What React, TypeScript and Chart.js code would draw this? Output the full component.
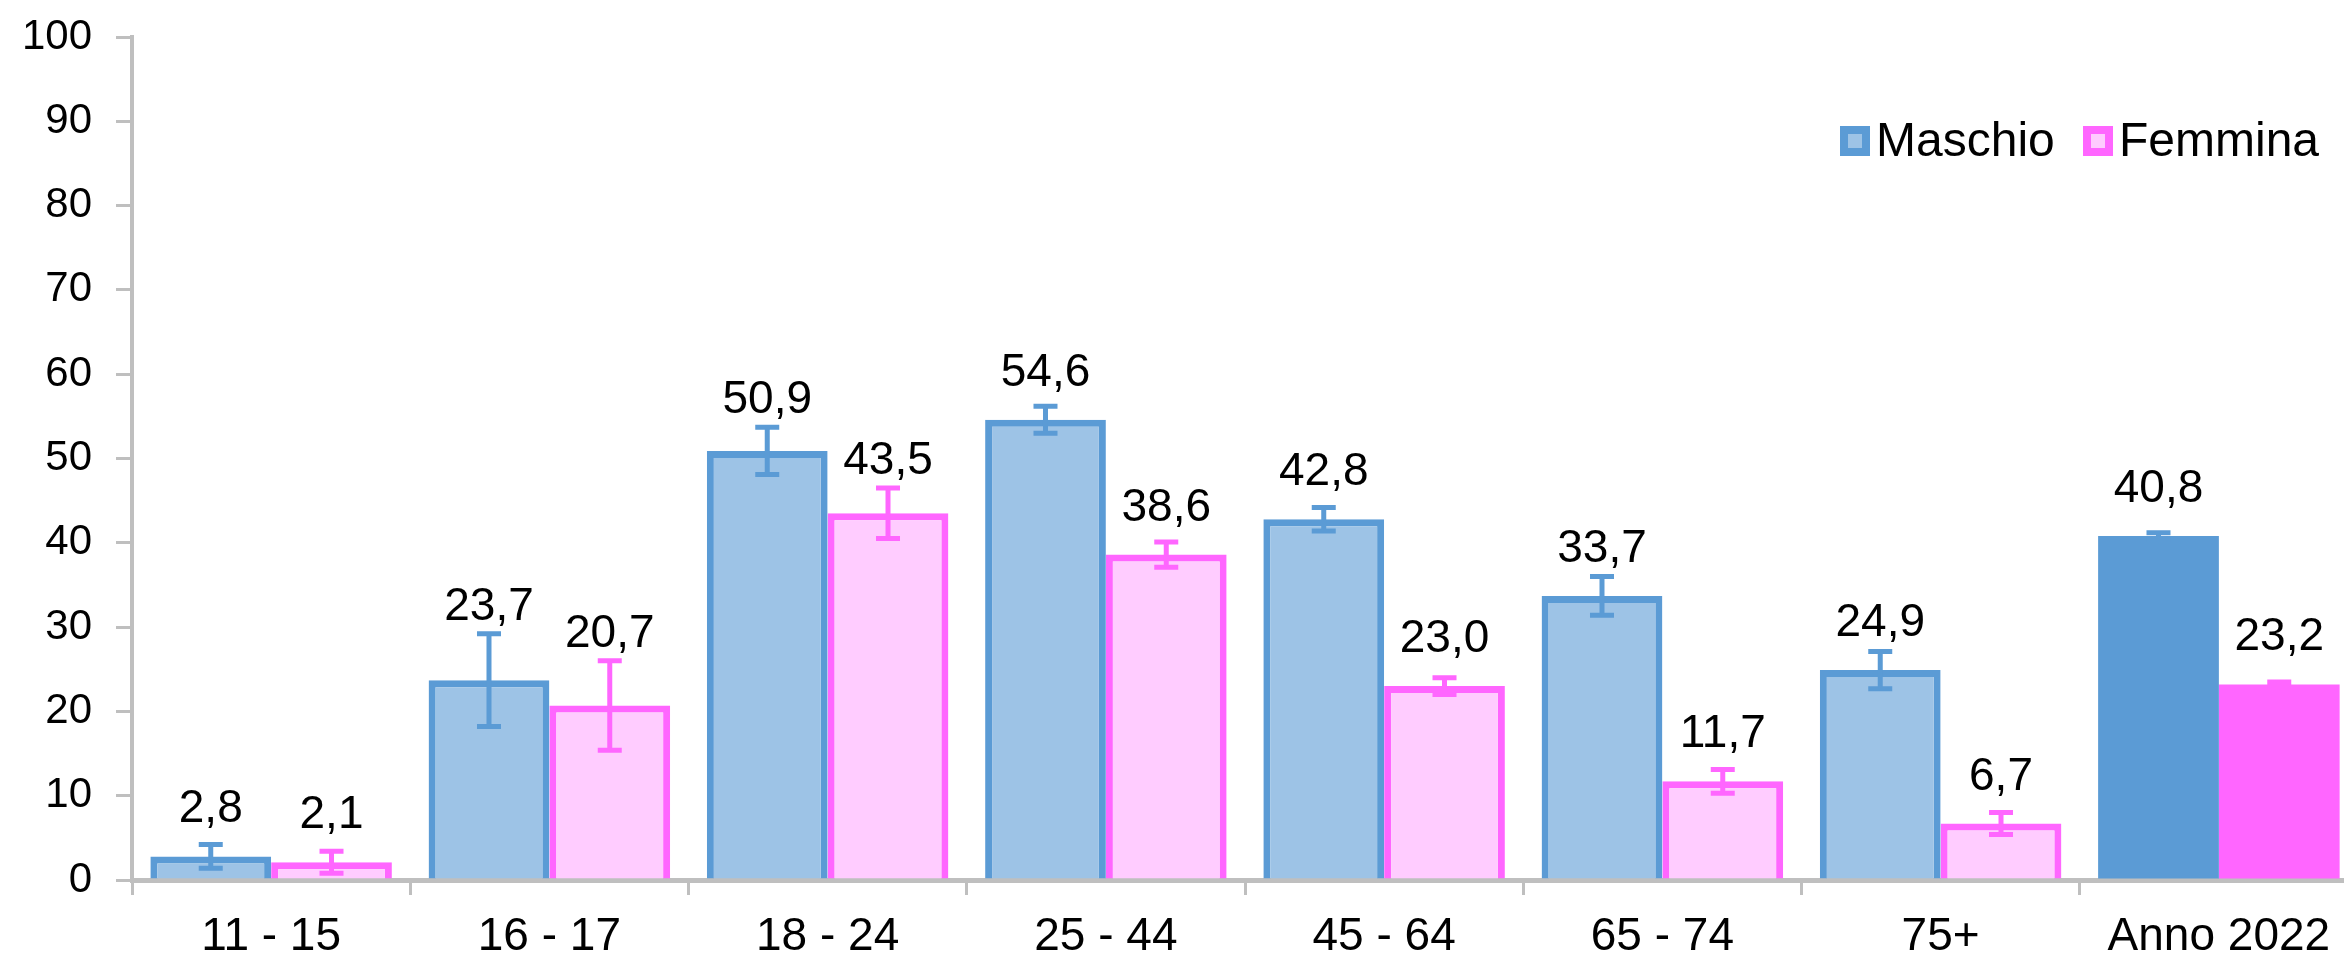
import React, { useEffect, useRef } from "react";
import { Chart, registerables } from "chart.js";

Chart.register(...registerables);

const categories = ["11 - 15", "16 - 17", "18 - 24", "25 - 44", "45 - 64", "65 - 74", "75+", "Anno 2022"];
const maleValues = [2.8, 23.7, 50.9, 54.6, 42.8, 33.7, 24.9, 40.8];
const femaleValues = [2.1, 20.7, 43.5, 38.6, 23.0, 11.7, 6.7, 23.2];
const maleErrors = [1.4, 5.5, 2.8, 1.6, 1.4, 2.3, 2.2, 0.4];
const femaleErrors = [1.3, 5.3, 3.0, 1.5, 1.0, 1.4, 1.3, 0.3];
const yTicks = [0, 10, 20, 30, 40, 50, 60, 70, 80, 90, 100];
const seriesNames = ["Maschio", "Femmina"];

const BLUE = "#5B9BD5";
const BLUE_LIGHT = "#9DC3E6";
const PINK = "#FF66FF";
const PINK_LIGHT = "#FFCCFF";
const AXIS = "#BFBFBF";
const FONT = "'Liberation Sans', Arial, sans-serif";

const errorsBySeries = [maleErrors, femaleErrors];
const strongBySeries = [BLUE, PINK];

const errorBarPlugin = {
  id: "errorBarsAndLabels",
  afterDatasetsDraw(chart: any) {
    const ctx = chart.ctx;
    const yScale = chart.scales.y;
    chart.data.datasets.forEach((ds: any, di: number) => {
      const meta = chart.getDatasetMeta(di);
      const errs = errorsBySeries[di];
      meta.data.forEach((bar: any, i: number) => {
        const v = ds.data[i];
        const e = errs[i];
        const x = bar.x;
        const yTop = yScale.getPixelForValue(v + e);
        const yBot = yScale.getPixelForValue(v - e);
        ctx.save();
        ctx.strokeStyle = strongBySeries[di];
        ctx.lineWidth = 5;
        ctx.beginPath();
        ctx.moveTo(x, yTop);
        ctx.lineTo(x, yBot);
        ctx.moveTo(x - 12, yTop);
        ctx.lineTo(x + 12, yTop);
        ctx.moveTo(x - 12, yBot);
        ctx.lineTo(x + 12, yBot);
        ctx.stroke();
        const label = v.toFixed(1).replace(".", ",");
        const yLab = Math.min(bar.y - 34, yTop - 14);
        ctx.fillStyle = "#000";
        ctx.font = `46px ${FONT}`;
        ctx.textAlign = "center";
        ctx.textBaseline = "alphabetic";
        ctx.fillText(label, x, yLab);
        ctx.restore();
      });
    });
  },
  afterDraw(chart: any) {
    const ctx = chart.ctx;
    const items = [
      { x: 1840, name: seriesNames[0], strong: BLUE, light: BLUE_LIGHT },
      { x: 2083, name: seriesNames[1], strong: PINK, light: PINK_LIGHT },
    ];
    const cy = 141;
    ctx.save();
    items.forEach((it) => {
      ctx.fillStyle = it.strong;
      ctx.fillRect(it.x, cy - 15, 30, 30);
      ctx.fillStyle = it.light;
      ctx.fillRect(it.x + 8, cy - 7, 14, 14);
      ctx.fillStyle = "#000";
      ctx.font = `48px ${FONT}`;
      ctx.textAlign = "left";
      ctx.textBaseline = "middle";
      ctx.fillText(it.name, it.x + 36, cy + 2);
    });
    ctx.restore();
  },
};

export default function App() {
  const ref = useRef<HTMLCanvasElement | null>(null);
  useEffect(() => {
    if (!ref.current) return;
    const last = categories.length - 1;
    const chart = new Chart(ref.current, {
      type: "bar",
      data: {
        labels: categories,
        datasets: [
          {
            label: seriesNames[0],
            data: maleValues,
            backgroundColor: maleValues.map((_, i) => (i === last ? BLUE : BLUE_LIGHT)),
            borderColor: BLUE,
            borderWidth: maleValues.map((_, i) => (i === last ? 0 : 7)),
            borderSkipped: "start",
          },
          {
            label: seriesNames[1],
            data: femaleValues,
            backgroundColor: femaleValues.map((_, i) => (i === last ? PINK : PINK_LIGHT)),
            borderColor: PINK,
            borderWidth: femaleValues.map((_, i) => (i === last ? 0 : 7)),
            borderSkipped: "start",
          },
        ],
      },
      options: {
        responsive: false,
        animation: false,
        devicePixelRatio: 1,
        layout: { padding: { top: 37, left: 0, right: 0, bottom: 0 } },
        datasets: { bar: { categoryPercentage: 0.868, barPercentage: 1.0 } },
        plugins: {
          legend: { display: false },
          tooltip: { enabled: false },
        },
        scales: {
          x: {
            offset: true,
            grid: {
              offset: true,
              drawOnChartArea: false,
              drawTicks: true,
              tickLength: 15,
              color: AXIS,
              lineWidth: 3,
            },
            border: { color: AXIS, width: 5 },
            ticks: { color: "#000", font: { family: FONT, size: 46 }, padding: 15, maxRotation: 0, autoSkip: false },
            afterFit: (scale: any) => {
              scale.height = 74;
            },
          },
          y: {
            min: 0,
            max: 100,
            afterBuildTicks: (scale: any) => {
              scale.ticks = yTicks.map((v) => ({ value: v }));
            },
            grid: {
              drawOnChartArea: false,
              drawTicks: true,
              tickLength: 16,
              color: AXIS,
              lineWidth: 3,
            },
            border: { color: AXIS, width: 4 },
            ticks: { color: "#000", font: { family: FONT, size: 42, lineHeight: 0.5 }, padding: 24 },
            afterFit: (scale: any) => {
              scale.width = 132;
            },
          },
        },
      },
      plugins: [errorBarPlugin],
    });
    return () => chart.destroy();
  }, []);

  return (
    <div style={{ position: "absolute", left: 0, top: 0, width: 2344, height: 954, overflow: "hidden", background: "#fff" }}>
      <canvas ref={ref} width={2358} height={954} style={{ display: "block", width: 2358, height: 954 }} />
    </div>
  );
}
